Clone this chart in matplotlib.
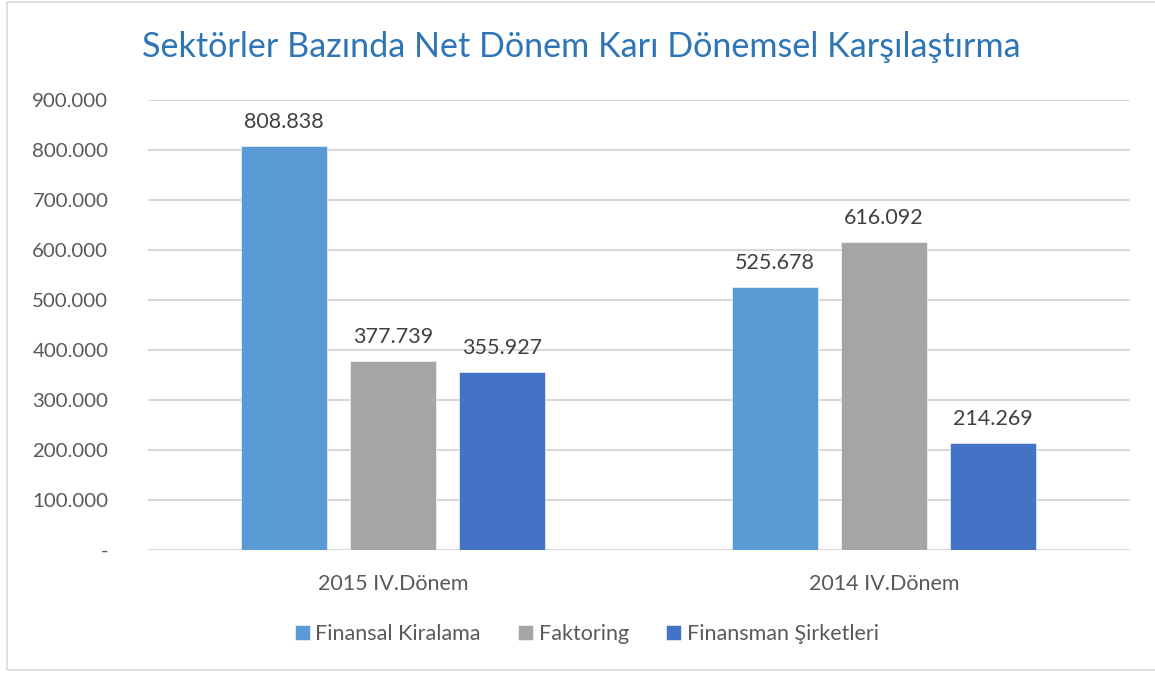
import matplotlib.pyplot as plt
import numpy as np
from matplotlib.patches import Rectangle

plt.rcParams['font.family'] = ['Lato', 'DejaVu Sans']

categories = ['2015 IV.Dönem', '2014 IV.Dönem']
series = ['Finansal Kiralama', 'Faktoring', 'Finansman Şirketleri']
values = [
    [808838, 525678],
    [377739, 616092],
    [355927, 214269],
]
colors = ['#5B9BD5', '#A5A5A5', '#4472C4']
yticks = [0, 100000, 200000, 300000, 400000, 500000, 600000, 700000, 800000, 900000]

def fmt(v):
    if v == 0:
        return '-'
    return f'{v:,}'.replace(',', '.')

fig = plt.figure(figsize=(11.55, 6.73), dpi=100)
ax = fig.add_axes([0.128, 0.1828, 0.850, 0.6686])

# thin frame around the chart
fig.patches.append(Rectangle((0.006, 0.004), 1.2, 0.993, transform=fig.transFigure,
                             fill=False, edgecolor='#D9D9D9', linewidth=1.2))

x = np.arange(len(categories))
width = 0.175
step = 0.222
for i, (name, vals) in enumerate(zip(series, values)):
    pos = x + (i - 1) * step
    bars = ax.bar(pos, vals, width, color=colors[i], label=name, zorder=3,
                  edgecolor='white', linewidth=0.4)
    for b, v in zip(bars, vals):
        ax.annotate(fmt(v), (b.get_x() + b.get_width() / 2, v), xytext=(0, 10),
                    textcoords='offset points', ha='center', va='bottom',
                    fontsize=15.5, color='#404040')

ax.set_xlim(-0.5, 1.5)
ax.set_ylim(0, 900000)
ax.set_yticks(yticks)
ax.set_yticklabels([fmt(v) for v in yticks])
ax.set_xticks(x)
ax.set_xticklabels(categories)
ax.tick_params(axis='both', length=0, labelsize=14.7, colors='#595959')
ax.tick_params(axis='x', labelsize=15.5, pad=17)
ax.tick_params(axis='y', pad=28.5)
ax.grid(axis='y', color='#D9D9D9', linewidth=1.5, zorder=0)
for s in ax.spines.values():
    s.set_visible(False)

fig.text(0.503, 0.930, 'Sektörler Bazında Net Dönem Karı Dönemsel Karşılaştırma',
         ha='center', va='center', fontsize=24.6, color='#2E75B6')

leg = ax.legend(loc='center', bbox_to_anchor=(0.447, -0.187), ncol=3, frameon=False,
                fontsize=15.5, handlelength=0.7, handleheight=0.7, handletextpad=0.25,
                columnspacing=1.75)
for t in leg.get_texts():
    t.set_color('#595959')

fig.savefig('out.png', dpi=100)
